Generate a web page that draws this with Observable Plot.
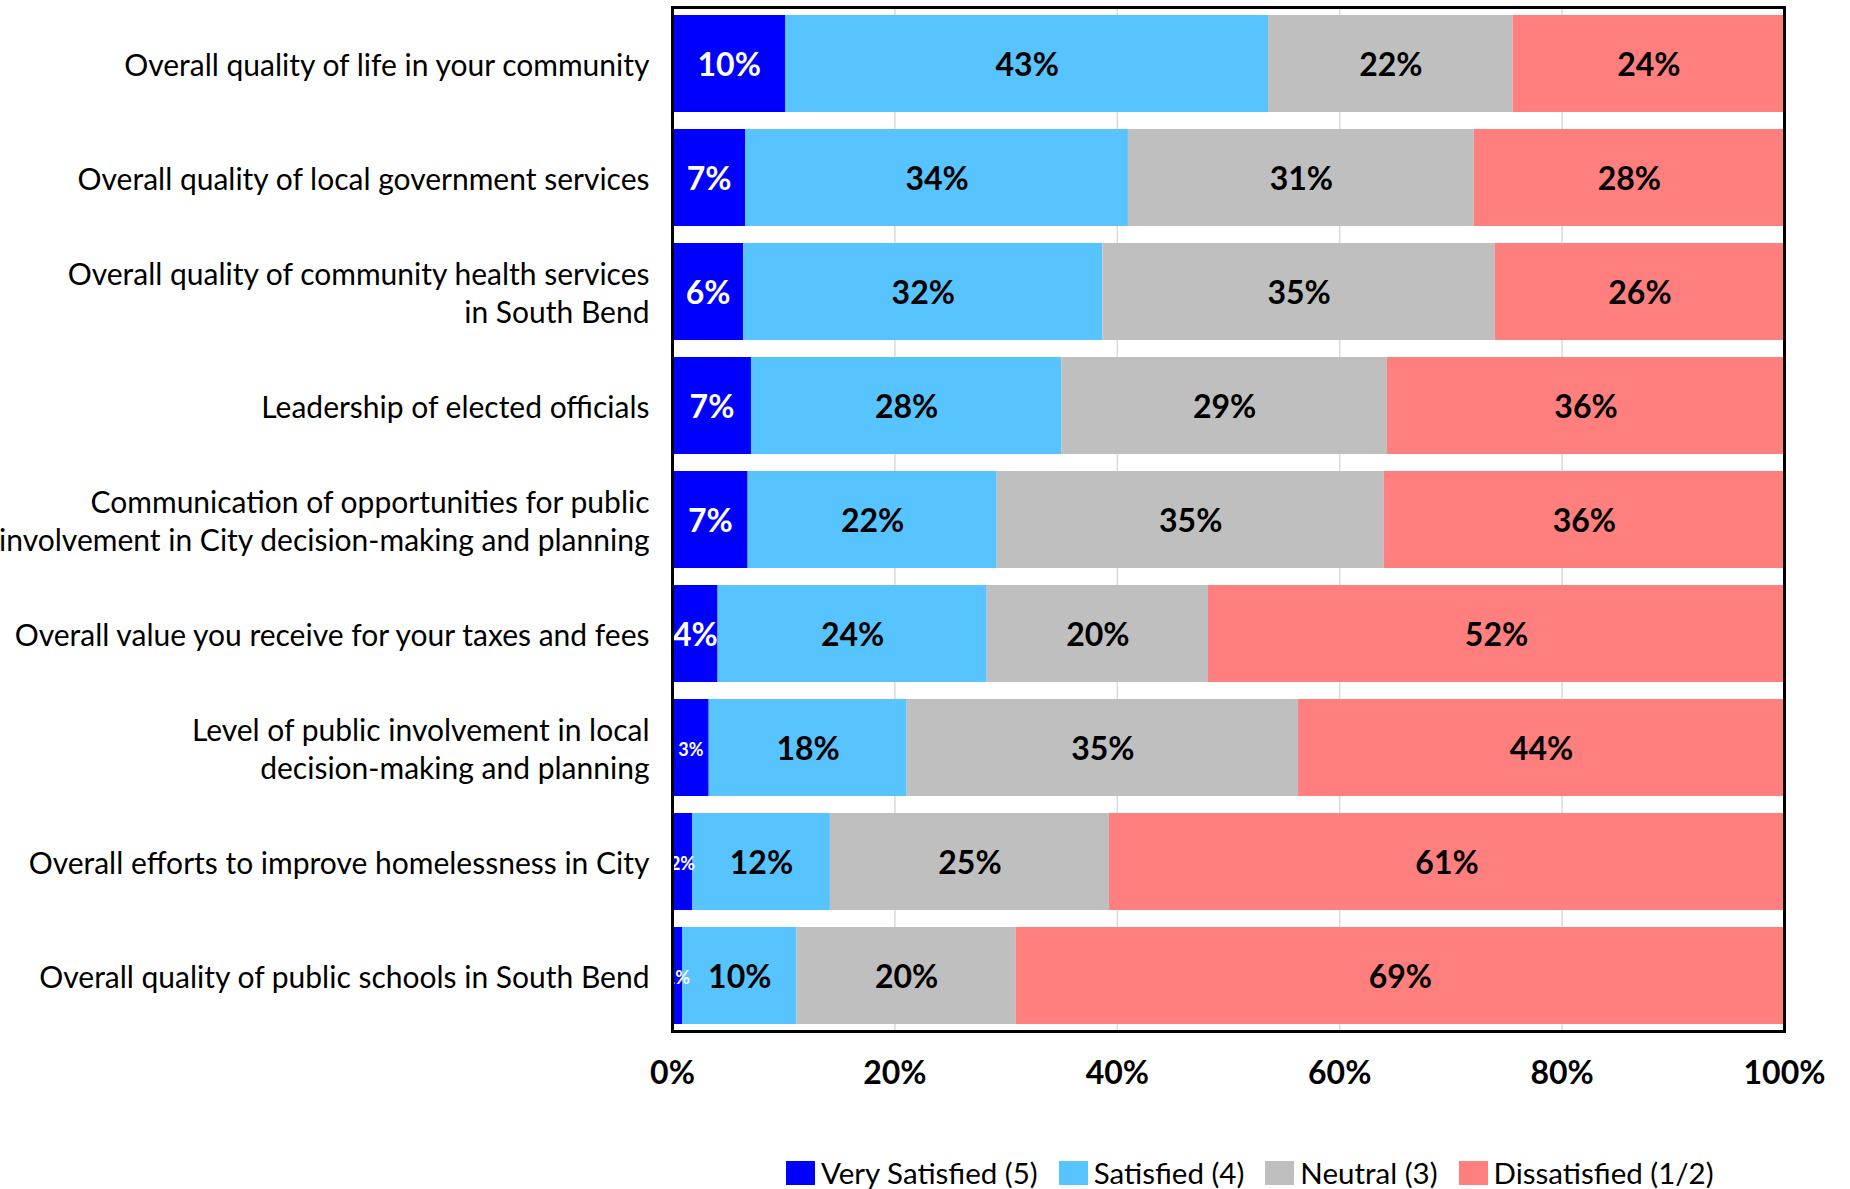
<!DOCTYPE html>
<html>
<head>
<meta charset="utf-8">
<script src="https://cdn.jsdelivr.net/npm/d3@7"></script>
<script src="https://cdn.jsdelivr.net/npm/@observablehq/plot@0.6"></script>
<style>
  html, body { margin: 0; padding: 0; background: #fff; }
  #chart svg { display: block; }
  #legend { display: flex; align-items: center; margin-left: 786px; margin-top: 55px;
            font-family: Lato, "Open Sans", sans-serif; font-size: 29.5px; color: #000; line-height: 34px; }
  #legend .item { display: flex; align-items: center; margin-right: 21px; }
  #legend .sw { width: 29px; height: 24px; margin-right: 6px; display: inline-block; }
</style>
</head>
<body>
<div id="chart"></div>
<div id="legend"></div>
<script>
const categories = [
  "Overall quality of life in your community",
  "Overall quality of local government services",
  "Overall quality of community health services\nin South Bend",
  "Leadership of elected officials",
  "Communication of opportunities for public\ninvolvement in City decision-making and planning",
  "Overall value you receive for your taxes and fees",
  "Level of public involvement in local\ndecision-making and planning",
  "Overall efforts to improve homelessness in City",
  "Overall quality of public schools in South Bend"
];
const seriesNames = ["Very Satisfied (5)", "Satisfied (4)", "Neutral (3)", "Dissatisfied (1/2)"];
const seriesColors = ["#0000FF", "#57C4FF", "#BFBFBF", "#FF7F7F"];
const verySatisfied = [10.2, 6.6, 6.4, 7.1, 6.8, 4.1, 3.3, 1.8, 0.9];
const satisfied     = [43.4, 34.4, 32.3, 27.9, 22.4, 24.2, 17.8, 12.4, 10.3];
const neutral       = [22.0, 31.1, 35.3, 29.3, 34.8, 19.9, 35.2, 25.1, 19.7];
const dissatisfied  = [24.4, 27.9, 26.0, 35.7, 36.0, 51.8, 43.7, 60.7, 69.1];
const xTicks = [0, 20, 40, 60, 80, 100];

const seriesValues = [verySatisfied, satisfied, neutral, dissatisfied];
const data = [];
categories.forEach((c, i) => {
  seriesNames.forEach((s, j) => {
    data.push({cat: c, series: s, value: seriesValues[j][i], idx: j});
  });
});

const plot = Plot.plot({
  width: 1850,
  height: 1101,
  marginLeft: 672,
  marginRight: 66,
  marginTop: 7,
  marginBottom: 70,
  style: {fontFamily: "Lato, 'Open Sans', sans-serif", color: "#000", background: "#fff", overflow: "visible"},
  x: {domain: [0, 100]},
  y: {domain: categories, paddingInner: 0.15, paddingOuter: 0.06},
  color: {domain: seriesNames, range: seriesColors},
  marks: [
    Plot.ruleX(xTicks.slice(1, -1), {stroke: "#D9D9D9", strokeWidth: 1.5}),
    Plot.barX(data, Plot.stackX({x: "value", y: "cat", fill: "series", z: "series"})),
    Plot.text(data, Plot.stackX({
      x: "value", y: "cat", z: "series",
      text: d => Math.round(d.value) + "%",
      fill: d => d.idx === 0 ? "#FFFFFF" : "#000000",
      fontSize: d => d.value < 3.5 ? 18 : 32,
      fontWeight: "bold",
      dy: 2,
      clip: true
    })),
    Plot.axisX({ticks: xTicks, tickFormat: d => d + "%", tickSize: 0, tickPadding: 30,
      fontSize: 32, fontWeight: "bold", label: null}),
    Plot.axisY({tickSize: 0, tickPadding: 23, fontSize: 30, lineHeight: 1.27, label: null,
      textAnchor: "end", lineWidth: 100}),
    Plot.frame({stroke: "#000", strokeWidth: 3})
  ]
});
document.getElementById("chart").appendChild(plot);

const legend = document.getElementById("legend");
seriesNames.forEach((s, j) => {
  const item = document.createElement("div");
  item.className = "item";
  const sw = document.createElement("span");
  sw.className = "sw";
  sw.style.background = seriesColors[j];
  const t = document.createElement("span");
  t.textContent = s;
  item.appendChild(sw);
  item.appendChild(t);
  legend.appendChild(item);
});
</script>
</body>
</html>
